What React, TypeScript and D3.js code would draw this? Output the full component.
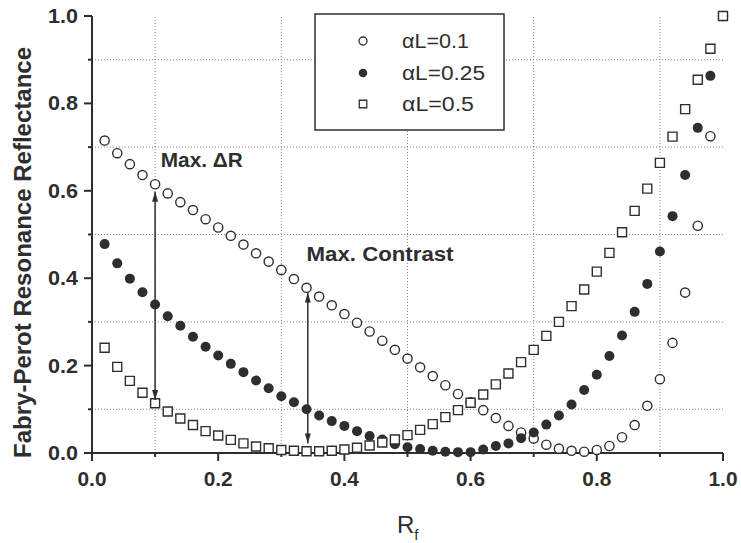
import React from 'react';
import * as d3 from 'd3';

// Rf values along the x axis
const rf = [
  0.02, 0.04, 0.06, 0.08, 0.1, 0.12, 0.14, 0.16, 0.18, 0.2,
  0.22, 0.24, 0.26, 0.28, 0.3, 0.32, 0.34, 0.36, 0.38, 0.4,
  0.42, 0.44, 0.46, 0.48, 0.5, 0.52, 0.54, 0.56, 0.58, 0.6,
  0.62, 0.64, 0.66, 0.68, 0.7, 0.72, 0.74, 0.76, 0.78, 0.8,
  0.82, 0.84, 0.86, 0.88, 0.9, 0.92, 0.94, 0.96, 0.98, 1.0,
];

// alphaL = 0.1 (open circles)
const r01 = [
  0.715, 0.686, 0.661, 0.636, 0.615, 0.594, 0.574, 0.556, 0.535, 0.516,
  0.497, 0.477, 0.457, 0.438, 0.419, 0.398, 0.378, 0.358, 0.338, 0.318,
  0.298, 0.278, 0.257, 0.236, 0.216, 0.196, 0.176, 0.155, 0.135, 0.116,
  0.098, 0.08, 0.062, 0.047, 0.033, 0.019, 0.01, 0.005, 0.003, 0.007,
  0.016, 0.036, 0.064, 0.108, 0.169, 0.252, 0.367, 0.52, 0.725, 1.0,
];

// alphaL = 0.25 (filled circles)
const r025 = [
  0.478, 0.434, 0.399, 0.368, 0.34, 0.313, 0.291, 0.266, 0.243, 0.223,
  0.204, 0.185, 0.166, 0.148, 0.13, 0.116, 0.1, 0.086, 0.073, 0.062,
  0.05, 0.039, 0.031, 0.02, 0.013, 0.009, 0.005, 0.003, 0.002, 0.002,
  0.008, 0.016, 0.022, 0.034, 0.047, 0.065, 0.086, 0.111, 0.144, 0.179,
  0.222, 0.269, 0.323, 0.387, 0.461, 0.542, 0.636, 0.744, 0.863, 1.0,
];

// alphaL = 0.5 (open squares)
const r05 = [
  0.241, 0.197, 0.165, 0.138, 0.114, 0.095, 0.079, 0.064, 0.05, 0.04,
  0.03, 0.022, 0.015, 0.011, 0.007, 0.005, 0.004, 0.004, 0.005, 0.008,
  0.012, 0.017, 0.024, 0.031, 0.041, 0.053, 0.066, 0.082, 0.098, 0.115,
  0.134, 0.157, 0.182, 0.208, 0.236, 0.268, 0.3, 0.336, 0.374, 0.415,
  0.458, 0.505, 0.554, 0.605, 0.664, 0.724, 0.787, 0.854, 0.925, 1.0,
];

const legendLabels = ['\u03b1L=0.1', '\u03b1L=0.25', '\u03b1L=0.5'];
const majorTicks = [0, 0.2, 0.4, 0.6, 0.8, 1.0];
const gridTicks = [0.1, 0.3, 0.5, 0.7, 0.9];

// annotation arrows: x, from y, to y
const arrows = [
  { x: 0.1, y1: 0.598, y2: 0.121 },
  { x: 0.342, y1: 0.367, y2: 0.022 },
];
const notes = [
  { text: 'Max. \u0394R', x: 0.109, y: 0.655, len: 82 },
  { text: 'Max. Contrast', x: 0.34, y: 0.44, len: 147 },
];

const W = 741;
const H = 543;
const ink = '#2e2e2e';
const font = '"Liberation Sans", Arial, Helvetica, sans-serif';

export default function App() {
  const x = d3.scaleLinear().domain([0, 1]).range([92, 723]);
  const y = d3.scaleLinear().domain([0, 1]).range([453, 16]);
  const fmt = d3.format('.1f');

  const circle = d3.symbol().type(d3.symbolCircle).size(Math.PI * 4.6 * 4.6);
  const square = d3.symbol().type(d3.symbolSquare).size(9 * 9);

  const open = rf.map((v, i) => [v, r01[i]]);
  const filled = rf.map((v, i) => [v, r025[i]]);
  const squares = rf.map((v, i) => [v, r05[i]]);

  const legendX = 363;
  const legendRows = [41, 73, 104];

  return (
    <svg
      width={W}
      height={H}
      style={{ position: 'absolute', left: 0, top: 0, background: '#fff' }}
      fontFamily={font}
    >
      <defs>
        <marker id="ah" viewBox="0 0 10 6" refX="10" refY="3" markerWidth="10" markerHeight="6"
          markerUnits="userSpaceOnUse" orient="auto-start-reverse">
          <path d="M0,0 L10,3 L0,6 Z" fill={ink} />
        </marker>
      </defs>

      {/* dotted grid */}
      <g stroke="#8a8a8a" strokeWidth={1} strokeDasharray="1,2">
        {gridTicks.map((t) => (
          <line key={'gx' + t} x1={x(t)} x2={x(t)} y1={y(0)} y2={y(1)} />
        ))}
        {gridTicks.map((t) => (
          <line key={'gy' + t} x1={x(0)} x2={x(1)} y1={y(t)} y2={y(t)} />
        ))}
      </g>

      {/* axes */}
      <g stroke={ink} strokeWidth={2}>
        <line x1={x(0)} x2={x(1)} y1={y(0)} y2={y(0)} />
        <line x1={x(0)} x2={x(0)} y1={y(0)} y2={y(1)} />
        {majorTicks.map((t) => (
          <line key={'tx' + t} x1={x(t)} x2={x(t)} y1={y(0)} y2={y(0) + 8} />
        ))}
        {gridTicks.map((t) => (
          <line key={'mx' + t} x1={x(t)} x2={x(t)} y1={y(0)} y2={y(0) + 4} />
        ))}
        {majorTicks.map((t) => (
          <line key={'ty' + t} x1={x(0) - 8} x2={x(0)} y1={y(t)} y2={y(t)} />
        ))}
        {gridTicks.map((t) => (
          <line key={'my' + t} x1={x(0) - 4} x2={x(0)} y1={y(t)} y2={y(t)} />
        ))}
      </g>

      {/* tick labels */}
      <g fill={ink} fontWeight="bold" fontSize={20}>
        {majorTicks.map((t) => (
          <text key={'lx' + t} x={x(t)} y={y(0) + 33} textAnchor="middle" textLength={29}
            lengthAdjust="spacingAndGlyphs">
            {fmt(t)}
          </text>
        ))}
        {majorTicks.map((t) => (
          <text key={'ly' + t} x={x(0) - 14} y={y(t) + 7} textAnchor="end" textLength={30}
            lengthAdjust="spacingAndGlyphs">
            {fmt(t)}
          </text>
        ))}
      </g>

      {/* axis titles */}
      <text
        transform={`translate(31, ${(47 + 458) / 2}) rotate(-90)`}
        textAnchor="middle"
        fontWeight="bold"
        fontSize={24}
        fill={ink}
        textLength={411}
        lengthAdjust="spacingAndGlyphs"
      >
        Fabry-Perot Resonance Reflectance
      </text>
      <text x={397} y={533} fontSize={24} fill={ink}>
        R<tspan fontSize={15} dy={7}>f</tspan>
      </text>

      {/* series */}
      <g fill="none" stroke={ink} strokeWidth={1.4}>
        {open.map((d, i) => (
          <path key={'o' + i} d={circle()!} transform={`translate(${x(d[0])},${y(d[1])})`} fill="#fff" />
        ))}
      </g>
      <g fill={ink}>
        {filled.map((d, i) => (
          <path key={'f' + i} d={d3.symbol().type(d3.symbolCircle).size(Math.PI * 5 * 5)()!}
            transform={`translate(${x(d[0])},${y(d[1])})`} />
        ))}
      </g>
      <g fill="none" stroke={ink} strokeWidth={1.4}>
        {squares.map((d, i) => (
          <path key={'s' + i} d={square()!} transform={`translate(${x(d[0])},${y(d[1])})`} fill="#fff" />
        ))}
      </g>

      {/* annotations */}
      <g stroke={ink} strokeWidth={1.5}>
        {arrows.map((a, i) => (
          <line key={'a' + i} x1={x(a.x)} x2={x(a.x)} y1={y(a.y1)} y2={y(a.y2)}
            markerStart="url(#ah)" markerEnd="url(#ah)" />
        ))}
      </g>
      <g fill={ink} fontWeight="bold" fontSize={20}>
        {notes.map((n) => (
          <text key={n.text} x={x(n.x)} y={y(n.y)} textLength={n.len} lengthAdjust="spacingAndGlyphs">
            {n.text}
          </text>
        ))}
      </g>

      {/* legend */}
      <rect x={315} y={14} width={189} height={116} fill="#fff" stroke={ink} strokeWidth={1.5} />
      <path d={d3.symbol().type(d3.symbolCircle).size(Math.PI * 16)()!}
        transform={`translate(${legendX},${legendRows[0]})`} fill="#fff" stroke={ink} strokeWidth={1.3} />
      <path d={d3.symbol().type(d3.symbolCircle).size(Math.PI * 18)()!}
        transform={`translate(${legendX},${legendRows[1]})`} fill={ink} />
      <path d={d3.symbol().type(d3.symbolSquare).size(56)()!}
        transform={`translate(${legendX},${legendRows[2]})`} fill="#fff" stroke={ink} strokeWidth={1.3} />
      <g fill={ink} fontSize={20}>
        {legendLabels.map((l, i) => (
          <text key={l} x={402} y={legendRows[i] + 7} textLength={[67, 83, 72][i]}
            lengthAdjust="spacingAndGlyphs">
            {l}
          </text>
        ))}
      </g>
    </svg>
  );
}
